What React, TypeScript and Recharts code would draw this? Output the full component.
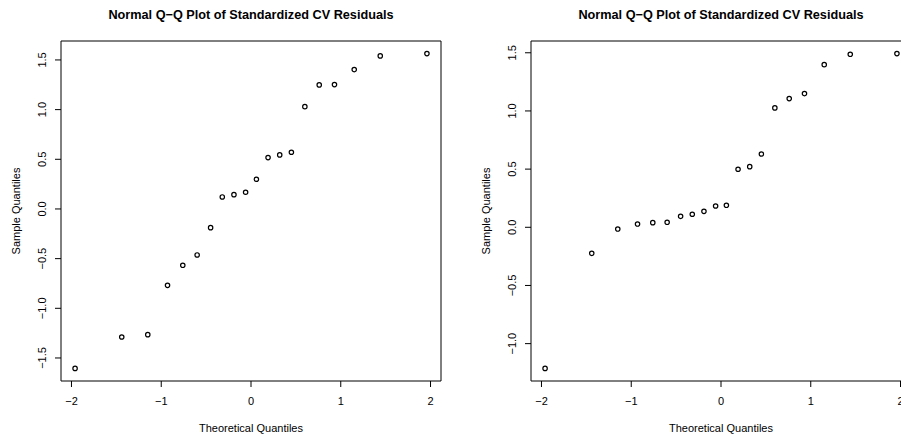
import React from "react";
import { ReferenceArea, Scatter, ScatterChart, XAxis, YAxis } from "recharts";

const FONT = "'Liberation Sans', Arial, Helvetica, sans-serif";
const TITLE = "Normal Q\u2212Q Plot of Standardized CV Residuals";

// normal quantiles for n = 20
const theoretical = [
  -1.96, -1.44, -1.15, -0.93, -0.76, -0.6, -0.45, -0.32, -0.19, -0.06,
  0.06, 0.19, 0.32, 0.45, 0.6, 0.76, 0.93, 1.15, 1.44, 1.96,
];

const leftSample = [
  -1.605, -1.289, -1.265, -0.769, -0.567, -0.463, -0.188, 0.121, 0.144, 0.168,
  0.299, 0.517, 0.544, 0.571, 1.03, 1.249, 1.252, 1.403, 1.541, 1.564,
];

const rightSample = [
  -1.213, -0.224, -0.015, 0.028, 0.04, 0.043, 0.094, 0.112, 0.137, 0.183,
  0.189, 0.499, 0.521, 0.63, 1.026, 1.106, 1.149, 1.398, 1.487, 1.493,
];

const xTicks = [-2, -1, 0, 1, 2];
const leftYTicks = [-1.5, -1, -0.5, 0, 0.5, 1, 1.5];
const rightYTicks = [-1, -0.5, 0, 0.5, 1, 1.5];

// R pads the data range by 4% on each side
const padRange = (vals: number[]): [number, number] => {
  const lo = Math.min(...vals);
  const hi = Math.max(...vals);
  const pad = (hi - lo) * 0.04;
  return [lo - pad, hi + pad];
};

const minus = (s: string) => s.replace("-", "\u2212");

const YTick = (props: any) => {
  const { x, y, payload } = props;
  return (
    <text
      x={x}
      y={y}
      transform={`rotate(-90 ${x} ${y})`}
      textAnchor="middle"
      fontSize={11}
      fontFamily={FONT}
      fill="#000"
    >
      {minus(payload.value.toFixed(1))}
    </text>
  );
};

const YLabel = (props: any) => {
  const vb = props.viewBox;
  const x = vb.x + vb.width - 41.5;
  const y = vb.y + vb.height / 2;
  return (
    <text
      x={x}
      y={y}
      transform={`rotate(-90 ${x} ${y})`}
      textAnchor="middle"
      fontSize={11}
      fontFamily={FONT}
      fill="#000"
    >
      Sample Quantiles
    </text>
  );
};

const Ring = (props: any) => (
  <circle cx={props.cx} cy={props.cy} r={2.2} fill="none" stroke="#000" strokeWidth={1.2} />
);

function QQPanel({
  sample,
  yTicks,
  width,
  yAxisWidth,
  right,
}: {
  sample: number[];
  yTicks: number[];
  width: number;
  yAxisWidth: number;
  right: number;
}) {
  const data = theoretical.map((x, i) => ({ x, y: sample[i] }));
  const xDomain = padRange(theoretical);
  const yDomain = padRange(sample);
  return (
    <ScatterChart
      width={width}
      height={436}
      margin={{ top: 41, right, bottom: 0, left: 0 }}
    >
      <XAxis
        type="number"
        dataKey="x"
        domain={xDomain}
        allowDataOverflow
        ticks={xTicks}
        interval={0}
        axisLine={false}
        tickLine={{ stroke: "#000" }}
        tickSize={6}
        tickMargin={10}
        height={55}
        tickFormatter={(v: number) => minus(String(v))}
        tick={{ fill: "#000", fontSize: 11, fontFamily: FONT }}
        label={{
          value: "Theoretical Quantiles",
          position: "insideBottom",
          offset: 4,
          fill: "#000",
          fontSize: 11,
          fontFamily: FONT,
        }}
      />
      <YAxis
        type="number"
        dataKey="y"
        domain={yDomain}
        allowDataOverflow
        ticks={yTicks}
        interval={0}
        width={yAxisWidth}
        axisLine={false}
        tickLine={{ stroke: "#000" }}
        tickSize={6}
        tickMargin={8.6}
        tick={<YTick />}
        label={<YLabel />}
      />
      <ReferenceArea
        x1={xDomain[0]}
        x2={xDomain[1]}
        y1={yDomain[0]}
        y2={yDomain[1]}
        fill="none"
        stroke="#000"
        strokeWidth={1}
        ifOverflow="visible"
        label={{
          value: TITLE,
          position: "top",
          offset: 22,
          fill: "#000",
          fontSize: 12.7,
          fontWeight: "bold",
          fontFamily: FONT,
        }}
      />
      <Scatter data={data} shape={<Ring />} isAnimationActive={false} />
    </ScatterChart>
  );
}

export default function App() {
  return (
    <div
      style={{
        position: "absolute",
        left: 0,
        top: 0,
        width: 901,
        height: 436,
        overflow: "hidden",
        background: "#fff",
      }}
    >
      <div style={{ position: "absolute", left: 0, top: 0 }}>
        <QQPanel sample={leftSample} yTicks={leftYTicks} width={450} yAxisWidth={61} right={9} />
      </div>
      <div style={{ position: "absolute", left: 450, top: 0 }}>
        <QQPanel sample={rightSample} yTicks={rightYTicks} width={461} yAxisWidth={81} right={0} />
      </div>
    </div>
  );
}
